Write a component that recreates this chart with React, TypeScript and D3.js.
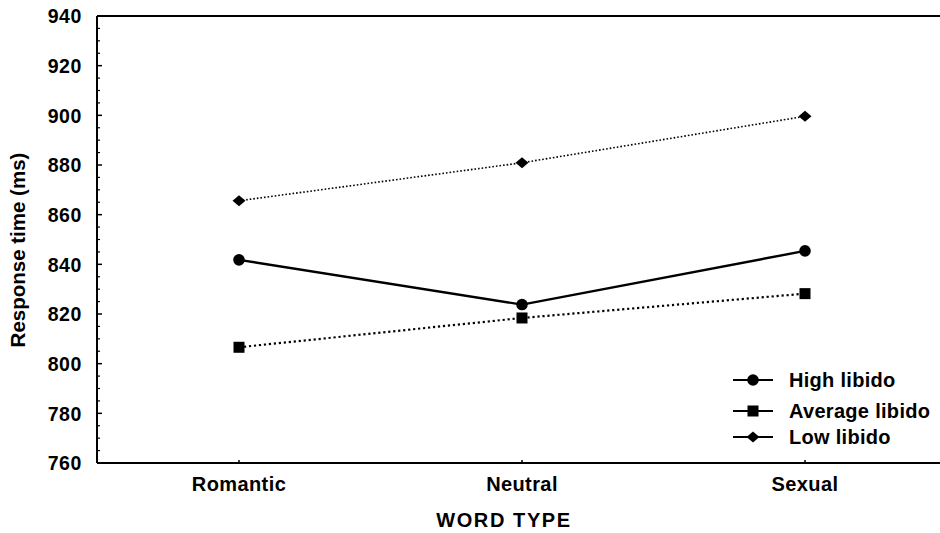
import React from "react";
import * as d3 from "d3";

const categories = ["Romantic", "Neutral", "Sexual"];
const highLibido = [841.8, 823.8, 845.4];
const averageLibido = [806.6, 818.4, 828.2];
const lowLibido = [865.6, 880.9, 899.6];
const yTicks = [760, 780, 800, 820, 840, 860, 880, 900, 920, 940];
const legendLabels = ["High libido", "Average libido", "Low libido"];

const W = 940;
const H = 533;
const left = 97;
const right = 940;
const top = 16;
const bottom = 463;

export default function App() {
  const x = d3.scalePoint<string>().domain(categories).range([239, 805]);
  const y = d3.scaleLinear().domain([760, 940]).range([bottom, top]);
  const line = d3
    .line<number>()
    .x((_, i) => x(categories[i]) as number)
    .y((d) => y(d));
  const minor = d3.range(760, 941, 5).filter((v) => v % 20 !== 0);
  const font = "'Liberation Sans', Arial, sans-serif";

  const circle = (cx: number, cy: number, k: string) => (
    <circle key={k} cx={cx} cy={cy} r={5.8} fill="#000" />
  );
  const square = (cx: number, cy: number, k: string) => (
    <rect key={k} x={cx - 5.5} y={cy - 5.5} width={11} height={11} fill="#000" />
  );
  const diamond = (cx: number, cy: number, k: string) => (
    <path
      key={k}
      d={`M${cx - 6.5},${cy} L${cx},${cy - 5.5} L${cx + 6.5},${cy} L${cx},${cy + 5.5} Z`}
      fill="#000"
    />
  );

  const series = [
    { vals: highLibido, dash: undefined, w: 2.4, mark: circle },
    { vals: averageLibido, dash: "2.2,2.8", w: 2.2, mark: square },
    { vals: lowLibido, dash: "1.6,2", w: 1.6, mark: diamond },
  ];
  const legendY = [380, 411, 437];

  return (
    <svg
      width={W}
      height={H}
      style={{ position: "absolute", left: 0, top: 0, background: "#fff" }}
      fontFamily={font}
    >
      <rect x={0} y={0} width={W} height={H} fill="#fff" />
      <line x1={left} y1={top} x2={right} y2={top} stroke="#000" strokeWidth={2} />
      <line x1={left} y1={top} x2={left} y2={bottom} stroke="#000" strokeWidth={2} />
      <line x1={left} y1={bottom} x2={right} y2={bottom} stroke="#000" strokeWidth={2} />
      {yTicks.map((t) => (
        <g key={t}>
          <line x1={left} x2={left + 5} y1={y(t)} y2={y(t)} stroke="#000" strokeWidth={1.5} />
          <text
            x={82}
            y={y(t)}
            dy="0.37em"
            textAnchor="end"
            fontSize={19.5}
            fontWeight="bold"
            letterSpacing={0.6}
          >
            {t}
          </text>
        </g>
      ))}
      {minor.map((t) => (
        <line key={"m" + t} x1={left} x2={left + 3} y1={y(t)} y2={y(t)} stroke="#000" strokeWidth={1.2} />
      ))}
      {categories.map((c) => (
        <g key={c}>
          <line x1={x(c)} x2={x(c)} y1={bottom} y2={bottom - 3} stroke="#000" strokeWidth={1.5} />
          <text x={x(c)} y={491} textAnchor="middle" fontSize={20} fontWeight="bold" letterSpacing={0.4}>
            {c}
          </text>
        </g>
      ))}
      <text x={504} y={527} textAnchor="middle" fontSize={20} fontWeight="bold" letterSpacing={1.6}>
        WORD TYPE
      </text>
      <text
        transform={`translate(25,250) rotate(-90)`}
        textAnchor="middle"
        fontSize={20.5}
        fontWeight="bold"
      >
        Response time (ms)
      </text>
      {series.map((s, si) => (
        <g key={si}>
          <path
            d={line(s.vals) || ""}
            fill="none"
            stroke="#000"
            strokeWidth={s.w}
            strokeDasharray={s.dash}
          />
          {s.vals.map((v, i) => s.mark(x(categories[i]) as number, y(v), `${si}-${i}`))}
        </g>
      ))}
      {legendLabels.map((l, i) => {
        const s = series[i];
        const ly = legendY[i];
        return (
          <g key={l}>
            <line x1={733} x2={773} y1={ly} y2={ly} stroke="#000" strokeWidth={1.8} />
            {s.mark(753, ly, "lg" + i)}
            <text x={789} y={ly} dy="0.37em" fontSize={20} fontWeight="bold" letterSpacing={0.3}>
              {l}
            </text>
          </g>
        );
      })}
    </svg>
  );
}
